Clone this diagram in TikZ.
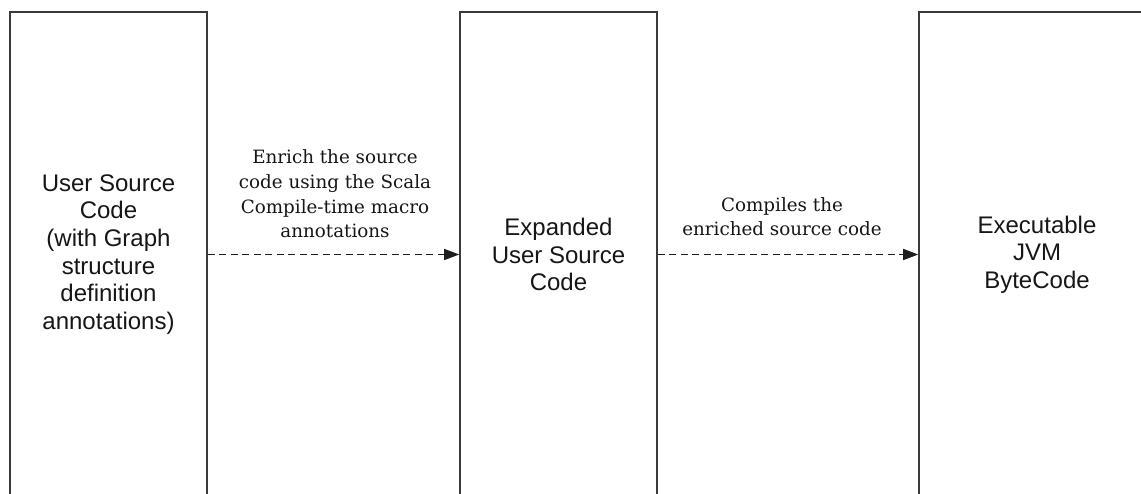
\documentclass[tikz,border=0pt]{standalone}
\usepackage{fontspec}
\setmainfont{DejaVu Serif}
\newfontfamily\boxfont{Liberation Sans}
\usetikzlibrary{arrows.meta}
\definecolor{framegray}{HTML}{3A3A3A}
\definecolor{linegray}{HTML}{1E1E1E}
\definecolor{inkblack}{HTML}{161616}
\begin{document}
\begin{tikzpicture}[x=1pt,y=-1pt,
  stage/.style={draw=framegray, line width=1.6pt, minimum width=197pt,
    minimum height=485pt, inner sep=0pt, align=center, text=inkblack,
    font=\boxfont\fontsize{24}{27.6}\selectfont},
  flow/.style={draw=linegray, line width=1.6pt, dash pattern=on 7pt off 4.5pt,
    -{Triangle[length=15pt,width=11pt]}},
  note/.style={align=center, text=inkblack,
    font=\fontsize{18.3}{24.6}\selectfont}]
\useasboundingbox (0,0) rectangle (1141,494);
\clip (0,0) rectangle (1141,494);
\fill[white] (0,0) rectangle (1141,494);

% the three stages
\node[stage] (src) at (108.5,254.5)
  {User Source\\Code\\(with Graph\\structure\\definition\\annotations)};
\node[stage] (exp) at (558.5,254.5) {Expanded\\User Source\\Code};
\node[stage, minimum width=236pt] (jvm) at (1037,254.5)
  {Executable\\JVM\\ByteCode};

% transitions between stages
\draw[flow] (src.east) -- (exp.west);
\draw[flow] (exp.east) -- (jvm.west);

% transition descriptions
\node[note] (enrich) at (335,194)
  {Enrich the source\\code using the Scala\\Compile-time macro\\annotations};
\node[note] (compile) at (782,216.5)
  {Compiles the\\enriched source code};
\end{tikzpicture}
\end{document}
